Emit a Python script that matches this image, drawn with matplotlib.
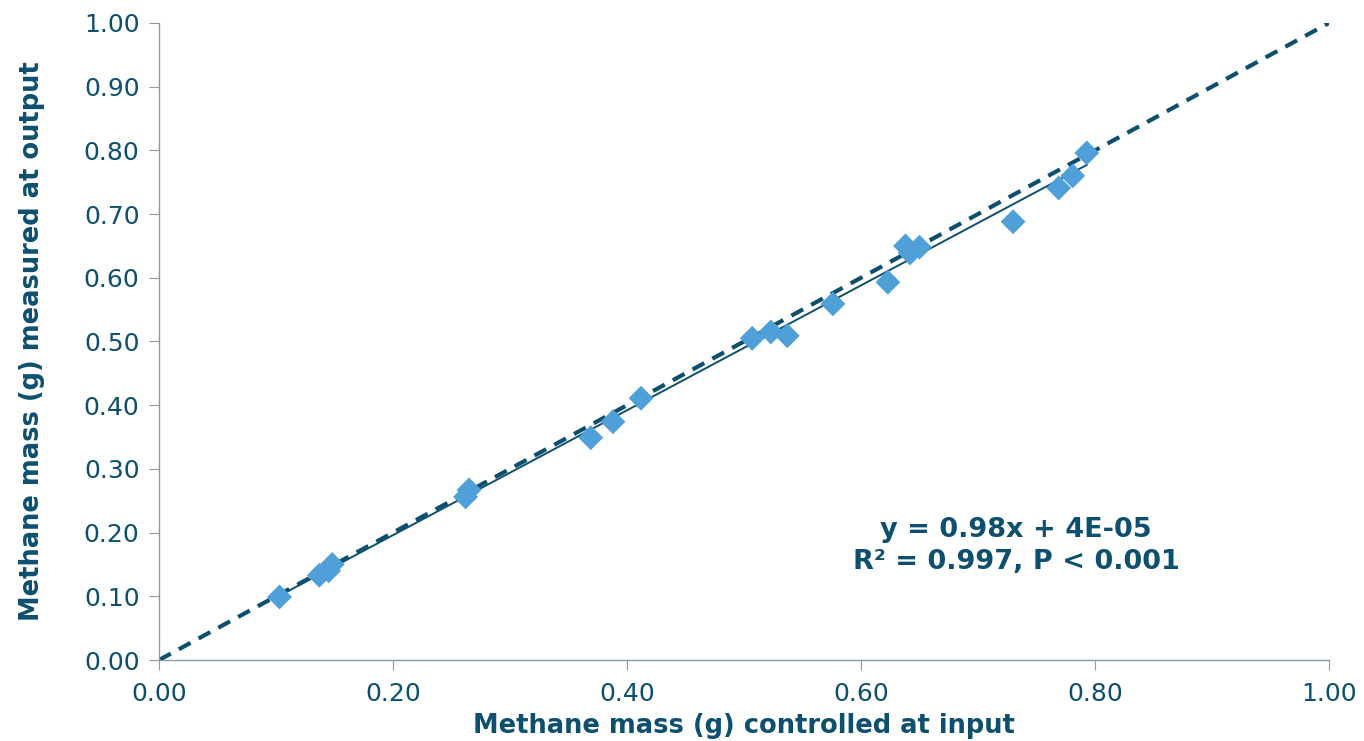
import matplotlib
matplotlib.use("Agg")
import matplotlib.pyplot as plt
import numpy as np

x_input = [0.103, 0.137, 0.145, 0.148, 0.262, 0.265, 0.369, 0.388, 0.412,
           0.507, 0.523, 0.537, 0.576, 0.623, 0.638, 0.642, 0.650, 0.730,
           0.769, 0.781, 0.793]
y_output = [0.099, 0.133, 0.140, 0.150, 0.256, 0.267, 0.349, 0.374, 0.411,
            0.505, 0.515, 0.509, 0.559, 0.593, 0.650, 0.639, 0.648, 0.688,
            0.741, 0.760, 0.796]
slope = 0.98
intercept = 4e-05
ticks = [0.0, 0.2, 0.4, 0.6, 0.8, 1.0]
yticks = [0.0, 0.1, 0.2, 0.3, 0.4, 0.5, 0.6, 0.7, 0.8, 0.9, 1.0]

txt = '#0d4f6e'
plt.rcParams['font.family'] = ['DejaVu Sans']

fig = plt.figure(figsize=(13.64, 7.41), dpi=100)
ax = fig.add_axes([0.1166, 0.1093, 0.8577, 0.8597])

ax.plot([0, 1], [0, 1], linestyle=(0, (3.2, 2.2)), color='#0d4f6e', lw=3.0, zorder=2)
xs = np.array([min(x_input), max(x_input)])
ax.plot(xs, slope * xs + intercept, color='#0d4f6e', lw=1.4, zorder=3)
ax.scatter(x_input, y_output, marker='D', s=160, color='#4f9fd8', edgecolors='none', zorder=4)

ax.set_xlim(0, 1)
ax.set_ylim(0, 1)
ax.set_xticks(ticks)
ax.set_yticks(yticks)
ax.set_xticklabels([f'{t:.2f}' for t in ticks])
ax.set_yticklabels([f'{t:.2f}' for t in yticks])
for s in ['top', 'right']:
    ax.spines[s].set_visible(False)
for s in ['left', 'bottom']:
    ax.spines[s].set_color('#8c9aa6')
    ax.spines[s].set_linewidth(1.0)
ax.tick_params(axis='both', direction='out', length=7, color='#8c9aa6',
               labelcolor=txt, labelsize=18, pad=7)
ax.tick_params(axis='x', pad=9)

ax.set_xlabel('Methane mass (g) controlled at input', fontsize=18.5, fontweight='bold',
              color=txt, labelpad=5)
ax.set_ylabel('Methane mass (g) measured at output', fontsize=18.5, fontweight='bold',
              color=txt, labelpad=28)

ax.text(0.7325, 0.204, 'y = 0.98x + 4E-05', ha='center', va='center', fontsize=19.5,
        fontweight='bold', color=txt)
ax.text(0.7325, 0.154, 'R² = 0.997, P < 0.001', ha='center', va='center', fontsize=19.5,
        fontweight='bold', color=txt)

fig.savefig('out.png', dpi=100)
